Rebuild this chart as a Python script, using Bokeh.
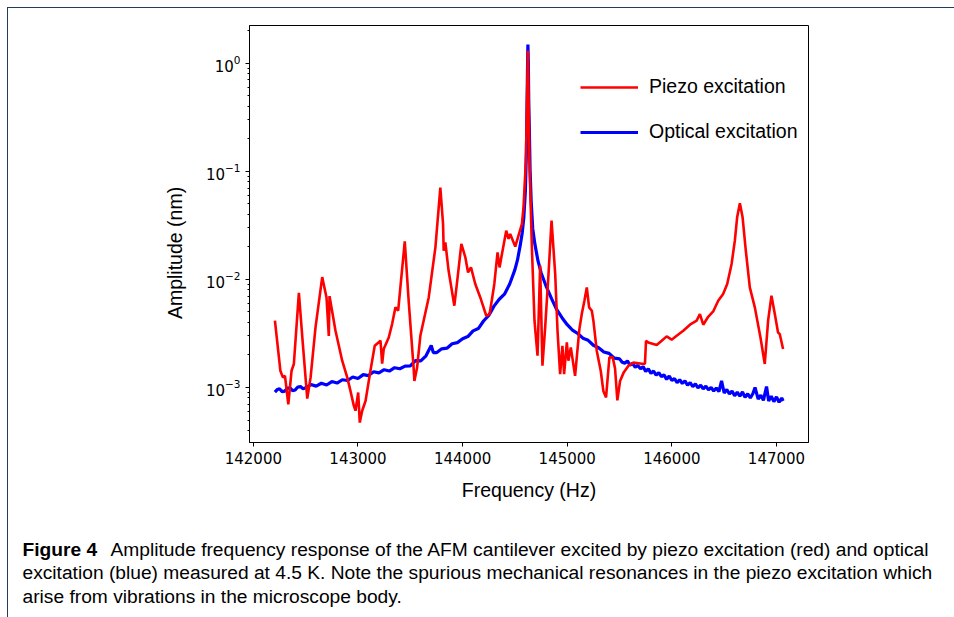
from bokeh.plotting import figure
from bokeh.layouts import column
from bokeh.core.properties import value
from bokeh.models import (Range1d, FixedTicker, NumeralTickFormatter, Legend, LegendItem)
from bokeh.embed import file_html
from bokeh.resources import INLINE

# ---------------- data ----------------
x_ticks = [142000, 143000, 144000, 145000, 146000, 147000]

piezo_freq = [
    142206, 142258, 142282, 142302, 142334, 142365, 142387, 142435, 142473, 142515,
    142547, 142594, 142658, 142699, 142721, 142728, 142785, 142849, 142897, 142928,
    142960, 142976, 143002, 143017, 143040, 143072, 143119, 143160, 143215, 143231,
    143246, 143294, 143326, 143358, 143384, 143447, 143485, 143532, 143539, 143565,
    143596, 143676, 143740, 143787, 143813, 143819, 143835, 143866, 143921, 143952,
    143988, 144026, 144052, 144080, 144121, 144169, 144200, 144226, 144258, 144281,
    144303, 144334, 144353, 144376, 144417, 144439, 144455, 144503, 144534, 144567,
    144582, 144605, 144624, 144639, 144662, 144687, 144716, 144741, 144763, 144789,
    144821, 144850, 144885, 144907, 144932, 144954, 144970, 144996, 145011, 145034,
    145075, 145116, 145139, 145164, 145187, 145209, 145235, 145250, 145282, 145320,
    145345, 145371, 145403, 145435, 145457, 145479, 145505, 145540, 145585, 145632,
    145696, 145734, 145743, 145753, 145775, 145823, 145855, 145903, 145950, 145998,
    146046, 146109, 146173, 146237, 146268, 146300, 146347, 146395, 146443, 146490,
    146529, 146571, 146602, 146624, 146650, 146676, 146707, 146745, 146793, 146847,
    146888, 146920, 146952, 146984, 147015, 147031, 147063]
piezo_amp = [
    0.00415, 0.00143, 0.00124, 0.00128, 0.00070, 0.00143, 0.00165, 0.0075, 0.00252, 0.00079,
    0.00124, 0.0036, 0.0105, 0.0068, 0.0030, 0.0070, 0.00335, 0.00177, 0.00124, 0.00093,
    0.00068, 0.00061, 0.00090, 0.000474, 0.00061, 0.00075, 0.00143, 0.00243, 0.00271, 0.00166,
    0.00227, 0.00290, 0.00386, 0.00551, 0.00513, 0.0225, 0.0062, 0.0015, 0.00115, 0.00153,
    0.00301, 0.00681, 0.0198, 0.0706, 0.0326, 0.0184, 0.0220, 0.0120, 0.00571, 0.0104,
    0.0213, 0.0160, 0.0116, 0.0129, 0.00907, 0.00681, 0.00551, 0.00461, 0.00478, 0.00659,
    0.00907, 0.0178, 0.0129, 0.0172, 0.0282, 0.0237, 0.0263, 0.0201, 0.0254, 0.0326,
    0.0464, 0.1256, 1.31, 0.1256, 0.0198, 0.00415, 0.00197, 0.0134, 0.00159, 0.0036,
    0.0112, 0.0350, 0.0112, 0.00335, 0.00133, 0.00243, 0.00133, 0.00261, 0.00177, 0.00235,
    0.00128, 0.00347, 0.00478, 0.00635, 0.00843, 0.00551, 0.00513, 0.00415, 0.00219, 0.00143,
    0.00093, 0.00081, 0.0019, 0.0019, 0.00150, 0.00076, 0.00115, 0.00138, 0.00159, 0.00170,
    0.00167, 0.00165, 0.00167, 0.00271, 0.00261, 0.00252, 0.00247, 0.00271, 0.00297, 0.00277,
    0.00301, 0.00335, 0.00381, 0.00415, 0.00478, 0.00381, 0.00451, 0.00505, 0.00635, 0.00732,
    0.00907, 0.0139, 0.0228, 0.0375, 0.0506, 0.0375, 0.0184, 0.00843, 0.00551, 0.0029,
    0.00165, 0.00415, 0.00707, 0.00478, 0.00323, 0.00312, 0.00227]

optical_freq = [
    142206, 142230, 142250, 142275, 142300, 142325, 142350, 142375, 142400, 142425,
    142450, 142475, 142500, 142550, 142600, 142650, 142700, 142750, 142800, 142850,
    142900, 142950, 143000, 143050, 143100, 143150, 143200, 143250, 143300, 143350,
    143400, 143450, 143500, 143550, 143600, 143650, 143700, 143720, 143750, 143800,
    143850, 143900, 143950, 144000, 144050, 144100, 144150, 144200, 144250, 144300,
    144350, 144400, 144450, 144500, 144525, 144550, 144570, 144585, 144600, 144610,
    144615, 144620, 144624, 144628, 144632, 144638, 144645, 144655, 144670, 144690,
    144720, 144750, 144800, 144850, 144900, 144950, 145000, 145050, 145100, 145150,
    145200, 145250, 145300, 145350, 145400, 145450, 145500, 145525, 145550, 145575,
    145600, 145625, 145650, 145675, 145700, 145725, 145750, 145775, 145800, 145825,
    145850, 145875, 145900, 145925, 145950, 145975, 146000, 146025, 146050, 146075,
    146100, 146125, 146150, 146175, 146200, 146225, 146250, 146275, 146300, 146325,
    146350, 146375, 146400, 146425, 146450, 146475, 146500, 146525, 146550, 146575,
    146600, 146625, 146650, 146675, 146700, 146725, 146750, 146775, 146795, 146825,
    146850, 146875, 146905, 146925, 146950, 146975, 147000, 147025, 147050, 147063]
optical_amp = [
    0.000905, 0.000960, 0.000975, 0.000915, 0.000925, 0.000985, 0.000990, 0.000935, 0.000950, 0.001010,
    0.00102, 0.000975, 0.000995, 0.001065, 0.00103, 0.001095, 0.001055, 0.001135, 0.00110, 0.00118,
    0.00116, 0.00125, 0.00121, 0.001315, 0.00129, 0.00140, 0.001365, 0.00146, 0.00142, 0.001525,
    0.00149, 0.001575, 0.001585, 0.00177, 0.00176, 0.001965, 0.00245, 0.00210, 0.00210, 0.00228,
    0.00231, 0.00254, 0.00260, 0.00282, 0.00296, 0.00334, 0.00351, 0.00412, 0.00464, 0.00566,
    0.00655, 0.00730, 0.00905, 0.0123, 0.01521, 0.02051, 0.02705, 0.03727, 0.06624, 0.1555,
    0.3648, 0.8555, 1.489, 1.059, 0.4515, 0.2382, 0.1015, 0.05355, 0.02947, 0.02141,
    0.0149, 0.01153, 0.00856, 0.00663, 0.00524, 0.00442, 0.00381, 0.00340, 0.00316, 0.00286,
    0.00273, 0.00246, 0.00233, 0.00213, 0.00207, 0.00187, 0.00184, 0.00171, 0.00168, 0.00176,
    0.00161, 0.00167, 0.00154, 0.00160, 0.00149, 0.00156, 0.00141, 0.00149, 0.00135, 0.00142,
    0.00130, 0.00137, 0.00126, 0.00131, 0.00119, 0.00128, 0.00116, 0.00121, 0.00111, 0.00118,
    0.00109, 0.00115, 0.00105, 0.00111, 0.00102, 0.00108, 0.00099, 0.00105, 0.00097, 0.00103,
    0.00095, 0.00100, 0.00093, 0.00099, 0.000915, 0.00115, 0.00089, 0.00096, 0.00087, 0.00093,
    0.00084, 0.000905, 0.00083, 0.00091, 0.00081, 0.000875, 0.00080, 0.00088, 0.00100, 0.00078,
    0.00085, 0.00076, 0.00102, 0.00075, 0.00083, 0.00074, 0.00082, 0.00073, 0.00080, 0.00075]

y_label = "Amplitude (nm)"
x_label = "Frequency (Hz)"
legend_labels = ["Piezo excitation", "Optical excitation"]
caption_bold = "Figure 4"
caption_lines = [
    "Amplitude frequency response of the AFM cantilever excited by piezo excitation (red) and optical",
    "excitation (blue) measured at 4.5 K. Note the spurious mechanical resonances in the piezo excitation which",
    "arise from vibrations in the microscope body.",
]

# ---------------- layout constants ----------------
OFF = 8                      # page offset of the content (border at 7 px)
W = 954 - OFF
H_PLOT = 520 - OFF
H_CAP = 617 - 520
FL, FT, FR, FB = 249 - OFF, 25 - OFF, 808 - OFF, 442 - OFF
BORDER = "#1f3d5f"

# ---------------- main plot ----------------
p = figure(width=W, height=H_PLOT,
           x_range=Range1d(141963, 147306), y_range=Range1d(3.1e-4, 2.23),
           y_axis_type="log", output_backend="svg", toolbar_location=None,
           min_border_left=FL, min_border_right=W - FR,
           min_border_top=FT, min_border_bottom=H_PLOT - FB)
p.background_fill_color = "white"
p.border_fill_color = "white"
p.outline_line_color = "black"
p.outline_line_width = 1
p.outline_line_alpha = 1
p.xgrid.visible = False
p.ygrid.visible = False

for ax in (p.xaxis[0], p.yaxis[0]):
    ax.axis_line_color = "black"
    ax.major_tick_line_color = "black"
    ax.minor_tick_line_color = "black"
    ax.major_tick_out = 4
    ax.major_tick_in = 0
    ax.minor_tick_in = 0
    ax.major_label_text_font = "DejaVu Sans"
    ax.major_label_text_font_size = "15px"
    ax.major_label_text_color = "black"
    ax.axis_label_text_font = "Liberation Sans"
    ax.axis_label_text_font_size = "19.5px"
    ax.axis_label_text_font_style = "normal"
    ax.axis_label_text_color = "black"
    ax.major_label_standoff = 5

p.xaxis.ticker = FixedTicker(ticks=x_ticks)
p.xaxis.formatter = NumeralTickFormatter(format="0")
p.xaxis.minor_tick_out = 0
p.yaxis.minor_tick_out = 2
p.xaxis.axis_label = x_label
# trailing no-break spaces shift the rotated label down, as in the reference
p.yaxis.axis_label = y_label + "\u00a0" * 7
p.xaxis.axis_label_standoff = 12
p.yaxis.axis_label_standoff = 17

r_blue = p.line(optical_freq, optical_amp, line_color="#0000ff", line_width=3.2)
r_red = p.line(piezo_freq, piezo_amp, line_color="#ff0000", line_width=2.6)

legend = Legend(items=[LegendItem(label=legend_labels[0], renderers=[r_red]),
                       LegendItem(label=legend_labels[1], renderers=[r_blue])],
                location=(331, 299),
                glyph_width=58, glyph_height=20, label_height=20,
                label_standoff=11, spacing=22, padding=0, margin=0,
                border_line_alpha=0, background_fill_alpha=0,
                label_text_font="Liberation Sans", label_text_font_size="19.5px",
                label_text_color="black")
p.add_layout(legend)

# ---------------- caption ----------------
cap = figure(width=W, height=H_CAP, x_range=Range1d(0, W), y_range=Range1d(H_CAP, 0),
             output_backend="svg", toolbar_location=None,
             x_axis_type=None, y_axis_type=None, min_border=0)
cap.xgrid.visible = False
cap.ygrid.visible = False
cap.outline_line_color = None
cap.background_fill_color = "white"
cap.border_fill_color = "white"

# keep each figure's frame where its own borders put it (no frame alignment)
for fig in (p, cap):
    if "frame_align" in fig.properties():
        fig.frame_align = False

cap.text(x=[22 - OFF], y=[549 - 520], text=[caption_bold],
         text_font=value("Liberation Sans"), text_font_size="19.2px",
         text_font_style="bold", text_baseline="middle", text_color="black")
cap.text(x=[110 - OFF, 22 - OFF, 22 - OFF], y=[549 - 520, 572 - 520, 596 - 520],
         text=caption_lines,
         text_font=value("Liberation Sans"), text_font_size="19.2px",
         text_baseline="middle", text_color="black")

root = column(p, cap, spacing=0,
              styles={"margin-left": "7px", "margin-top": "7px",
                      "border-left": "1px solid " + BORDER,
                      "border-top": "1px solid " + BORDER})

open("out.html", "w").write(file_html(root, INLINE))
